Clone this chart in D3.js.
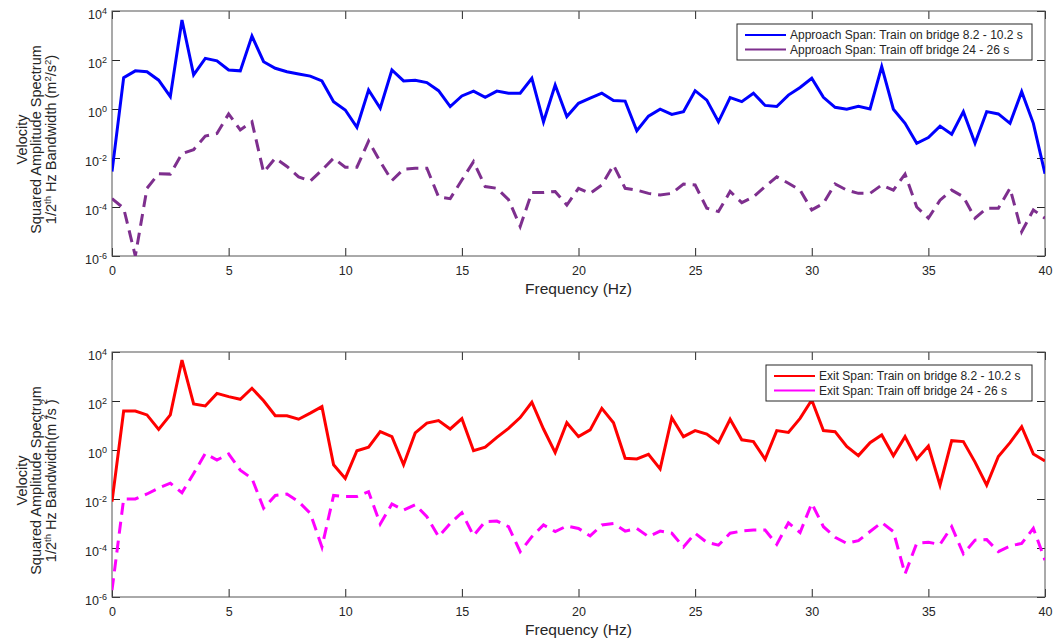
<!DOCTYPE html>
<html>
<head>
<meta charset="utf-8">
<script src="https://cdn.jsdelivr.net/npm/d3@7"></script>
<style>
  body { margin: 0; background: #fff; }
  svg { display: block; font-family: "Liberation Sans", Arial, sans-serif; }
  .axis path, .axis line { stroke: #262626; }
  .axis text { fill: #262626; font-size: 12.5px; }
</style>
</head>
<body>
<div id="chart"></div>
<script>
var svgWidth = 1056;
var svgHeight = 642;

// frequency grid (Hz)
var freqHz = [0, 0.5, 1, 1.5, 2, 2.5, 3, 3.5, 4, 4.5, 5, 5.5, 6, 6.5, 7, 7.5, 8, 8.5, 9, 9.5,
  10, 10.5, 11, 11.5, 12, 12.5, 13, 13.5, 14, 14.5, 15, 15.5, 16, 16.5, 17, 17.5, 18, 18.5, 19, 19.5,
  20, 20.5, 21, 21.5, 22, 22.5, 23, 23.5, 24, 24.5, 25, 25.5, 26, 26.5, 27, 27.5, 28, 28.5, 29, 29.5,
  30, 30.5, 31, 31.5, 32, 32.5, 33, 33.5, 34, 34.5, 35, 35.5, 36, 36.5, 37, 37.5, 38, 38.5, 39, 39.5, 40];

// Approach span, train on bridge 8.2 - 10.2 s
var approachOn = [2.8e-3, 19, 36, 33, 15, 3.2, 4300, 25, 117, 93, 39, 36, 950, 85, 46, 33, 27, 22, 14, 2.0,
  0.91, 0.18, 6.0, 1.07, 39, 14, 15, 12, 5.6, 1.26, 3.4, 5.4, 3.0, 5.4, 4.4, 4.4, 18, 0.30, 9.5, 0.49,
  1.7, 2.75, 4.4, 2.2, 2.1, 0.13, 0.51, 0.98, 0.60, 0.78, 5.6, 2.3, 0.30, 2.9, 2.0, 4.4, 1.4, 1.26, 3.7, 7.6,
  18, 3.0, 1.17, 0.98, 1.3, 1.0, 54, 0.98, 0.26, 0.040, 0.068, 0.20, 0.093, 0.78, 0.040, 0.78, 0.63, 0.26, 5.1, 0.26, 2.3e-3];

// Approach span, train off bridge 24 - 26 s
var approachOff = [2.2e-4, 8.9e-5, 1.0e-6, 5.8e-4, 2.3e-3, 2.2e-3, 0.015, 0.022, 0.079, 0.10, 0.63, 0.14, 0.30, 2.6e-3, 9.8e-3, 4.5e-3, 1.7e-3, 1.15e-3, 3.2e-3, 9.8e-3,
  4.2e-3, 4.2e-3, 0.049, 7.1e-3, 1.2e-3, 3.5e-3, 3.8e-3, 3.8e-3, 2.6e-4, 2.2e-4, 1.26e-3, 7.1e-3, 6.8e-4, 5.8e-4, 2.0e-4, 1.6e-5, 3.9e-4, 3.9e-4, 4.3e-4, 1.2e-4,
  5.8e-4, 3.6e-4, 7.9e-4, 5.1e-3, 5.8e-4, 4.9e-4, 3.6e-4, 3.1e-4, 3.6e-4, 8.7e-4, 7.9e-4, 8.9e-5, 6.5e-5, 4.3e-4, 1.5e-4, 2.6e-4, 6.8e-4, 1.7e-3, 9.3e-4, 4.9e-4,
  7.6e-5, 1.4e-4, 8.7e-4, 4.9e-4, 3.6e-4, 3.6e-4, 7.9e-4, 4.9e-4, 2.2e-3, 1.0e-4, 3.5e-5, 1.9e-4, 4.9e-4, 2.6e-4, 3.5e-5, 8.9e-5, 8.9e-5, 5.8e-4, 9.8e-6, 7.6e-5, 3.5e-5];

// Exit span, train on bridge 8.2 - 10.2 s
var exitOn = [7.8e-3, 39, 39, 27, 6.9, 27, 4700, 76, 63, 204, 151, 117, 331, 102, 25, 25, 18, 32, 59, 0.25,
  0.069, 0.93, 1.3, 5.6, 3.5, 0.25, 5.0, 12.6, 16, 7.2, 19, 0.93, 1.3, 3.3, 7.6, 21, 89, 7.2, 0.78, 13,
  3.5, 6.6, 50, 13, 0.46, 0.43, 0.66, 0.17, 21, 3.5, 6.2, 4.5, 2.0, 18, 2.6, 2.2, 0.42, 6.2, 5.2, 19.5,
  110, 6.2, 5.6, 1.4, 0.59, 2.0, 4.1, 0.58, 3.5, 0.42, 1.45, 0.037, 2.4, 2.2, 0.32, 0.037, 0.54, 2.0, 8.9, 0.69, 0.36];

// Exit span, train off bridge 24 - 26 s
var exitOff = [1.9e-6, 0.010, 0.010, 0.016, 0.028, 0.044, 0.018, 0.11, 0.72, 0.39, 0.69, 0.15, 0.069, 4.2e-3, 0.014, 0.016, 7.8e-3, 2.6e-3, 1.1e-4, 0.014,
  0.0126, 0.0126, 0.020, 9.5e-4, 6.3e-3, 3.5e-3, 5.8e-3, 1.9e-3, 2.9e-4, 1.0e-3, 2.75e-3, 3.2e-4, 1.2e-3, 1.26e-3, 7.4e-4, 7.1e-5, 2.9e-4, 8.7e-4, 4.7e-4, 7.9e-4,
  6.3e-4, 3.1e-4, 8.7e-4, 1.0e-3, 4.9e-4, 6.3e-4, 2.9e-4, 4.9e-4, 4.0e-4, 1.1e-4, 4.0e-4, 1.7e-4, 1.3e-4, 4.0e-4, 4.9e-4, 5.4e-4, 5.4e-4, 1.4e-4, 1.07e-3, 4.3e-4,
  6.6e-3, 7.4e-4, 2.75e-4, 1.55e-4, 2.0e-4, 4.7e-4, 1.1e-3, 4.7e-4, 8.7e-6, 1.55e-4, 1.7e-4, 1.4e-4, 7.4e-4, 5.8e-5, 2.1e-4, 2.2e-4, 7.1e-5, 1.2e-4, 1.55e-4, 6.3e-4, 3.2e-5];

var xTicks = [0, 5, 10, 15, 20, 25, 30, 35, 40];
var yTicks = [1e-6, 1e-4, 1e-2, 1e0, 1e2, 1e4];

var svg = d3.select("#chart")
  .append("svg")
  .attr("width", svgWidth)
  .attr("height", svgHeight);

var left = 112, right = 1045;

var x = d3.scaleLinear().domain([0, 40]).range([left, right]);

function drawPanel(id, top, bottom, seriesA, seriesB, legendX, legendW) {
  var y = d3.scaleLog().domain([1e-6, 1e4]).range([bottom, top]);
  var g = svg.append("g");

  g.append("defs").append("clipPath").attr("id", "clip" + id)
    .append("rect").attr("x", left).attr("y", top)
    .attr("width", right - left).attr("height", bottom - top);

  // ticks all round, pointing inward
  g.append("g").attr("class", "axis")
    .attr("transform", `translate(0, ${bottom})`)
    .call(d3.axisBottom(x).tickValues(xTicks).tickSizeInner(-8).tickSizeOuter(0).tickPadding(10).tickFormat(d3.format("d")));
  g.append("g").attr("class", "axis")
    .attr("transform", `translate(0, ${top})`)
    .call(d3.axisTop(x).tickValues(xTicks).tickSizeInner(-8).tickSizeOuter(0).tickFormat(""));
  var yAxis = g.append("g").attr("class", "axis")
    .attr("transform", `translate(${left}, 0)`)
    .call(d3.axisLeft(y).tickValues(yTicks).tickSizeInner(-8).tickSizeOuter(0).tickPadding(6).tickFormat(""));
  g.append("g").attr("class", "axis")
    .attr("transform", `translate(${right}, 0)`)
    .call(d3.axisRight(y).tickValues(yTicks).tickSizeInner(-8).tickSizeOuter(0).tickFormat(""));

  // 10^n labels
  yAxis.selectAll(".tick text").each(function(d) {
    var t = d3.select(this).attr("dy", "0.62em").attr("x", -5);
    t.append("tspan").text("10");
    t.append("tspan").attr("dy", "-0.55em").style("font-size", "9px").text(Math.round(Math.log10(d)));
  });

  g.selectAll(".axis .domain").remove();
  g.append("rect")
    .attr("x", left).attr("y", top)
    .attr("width", right - left).attr("height", bottom - top)
    .attr("fill", "none").attr("stroke", "#555").attr("stroke-width", 1);

  var line = d3.line()
    .x((d, i) => x(freqHz[i]))
    .y(d => y(d));

  var plot = g.append("g").attr("clip-path", `url(#clip${id})`);
  plot.append("path").datum(seriesA.values)
    .attr("d", line).attr("fill", "none")
    .attr("stroke", seriesA.color).attr("stroke-width", 3);
  plot.append("path").datum(seriesB.values)
    .attr("d", line).attr("fill", "none")
    .attr("stroke", seriesB.color).attr("stroke-width", 3)
    .attr("stroke-dasharray", "12,7");

  // axis labels
  g.append("text")
    .attr("x", (left + right) / 2).attr("y", bottom + 38)
    .attr("text-anchor", "middle").style("font-size", "15.5px").attr("fill", "#262626")
    .text("Frequency (Hz)");

  var cy = (top + bottom) / 2 + 6;
  var yl = g.append("g").attr("transform", `translate(0, ${cy}) rotate(-90)`)
    .attr("fill", "#262626").style("font-size", "14.5px").attr("text-anchor", "middle");
  yl.append("text").attr("y", 27).text("Velocity");
  yl.append("text").attr("y", 41).text("Squared Amplitude Spectrum");
  var l3 = yl.append("text").attr("y", 56);
  l3.append("tspan").text("1/2");
  l3.append("tspan").attr("dy", -5).style("font-size", "9.5px").text("th");
  if (id === 1) {
    l3.append("tspan").attr("dy", 5).text(" Hz Bandwidth (m");
    l3.append("tspan").attr("dy", -5).style("font-size", "9.5px").text("2");
    l3.append("tspan").attr("dy", 5).text("/s");
    l3.append("tspan").attr("dy", -5).style("font-size", "9.5px").text("2");
    l3.append("tspan").attr("dy", 5).text(")");
  } else {
    // superscripts drawn detached above the text, as in the original figure
    l3.append("tspan").attr("dy", 5).text(" Hz Bandwidth(m /s )");
    l3.append("tspan").attr("dx", -20).attr("dy", -9).style("font-size", "9.5px").text("2");
    l3.append("tspan").attr("dx", 10).style("font-size", "9.5px").text("2");
  }

  // legend
  var lg = g.append("g").attr("transform", `translate(${legendX}, ${top + 13})`);
  lg.append("rect").attr("x", 0).attr("y", 0).attr("width", legendW).attr("height", 36)
    .attr("fill", "#fff").attr("stroke", "#262626").attr("stroke-width", 1);
  [seriesA, seriesB].forEach(function(s, i) {
    var ly = 11 + i * 14.5;
    lg.append("line").attr("x1", 8).attr("x2", 49).attr("y1", ly).attr("y2", ly)
      .attr("stroke", s.color).attr("stroke-width", 2);
    lg.append("text").attr("x", 53).attr("y", ly + 4.3)
      .style("font-size", "12px").attr("fill", "#262626").text(s.label);
  });
}

drawPanel(1, 11, 256,
  { values: approachOn, color: "#0000ff", label: "Approach Span: Train on bridge 8.2 - 10.2 s" },
  { values: approachOff, color: "#7e2f8e", label: "Approach Span: Train off bridge 24 - 26 s" },
  737, 295);

drawPanel(2, 352, 597,
  { values: exitOn, color: "#ff0000", label: "Exit Span: Train on bridge 8.2 - 10.2 s" },
  { values: exitOff, color: "#ff00ff", label: "Exit Span: Train off bridge 24 - 26 s" },
  766, 266);
</script>
</body>
</html>
